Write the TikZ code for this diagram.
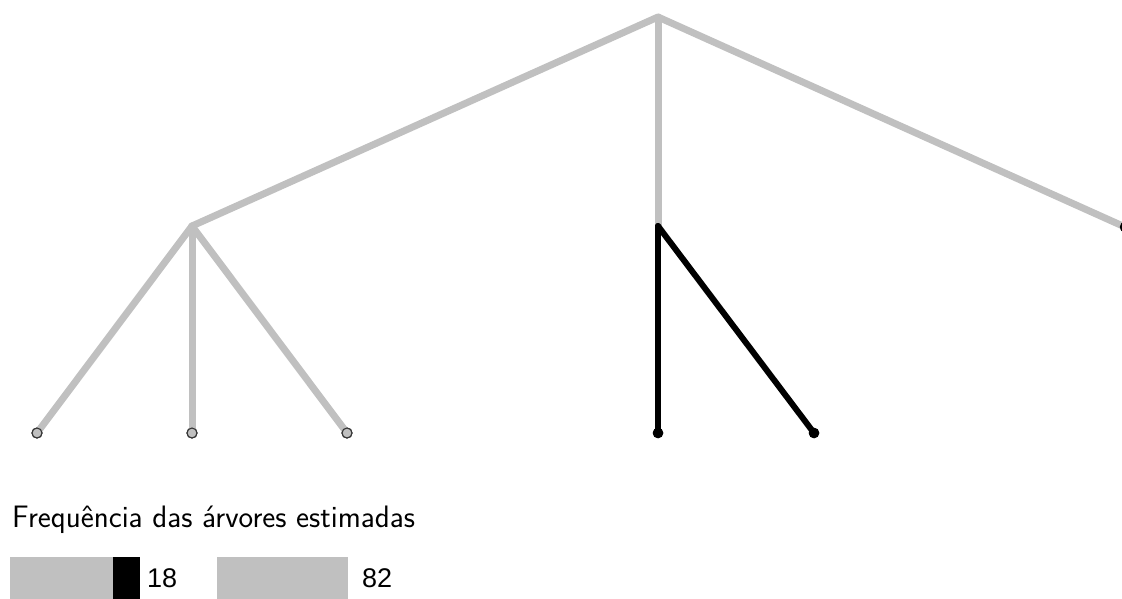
\documentclass[tikz,border=0pt]{standalone}
\usepackage{fontspec}
\newfontfamily\numfont{Liberation Sans}
\definecolor{lgrey}{HTML}{C0C0C0}
\definecolor{ringgrey}{HTML}{333333}
\begin{document}
\begin{tikzpicture}[x=1pt,y=-1pt,
  greyedge/.style={draw=lgrey,line width=7pt,line cap=round,line join=round},
  blackedge/.style={draw=black,line width=6pt,line cap=round},
  greyleaf/.style={circle,fill=lgrey,draw=ringgrey,line width=1.1pt,inner sep=0pt,minimum size=10pt},
  blackleaf/.style={circle,fill=black,inner sep=0pt,minimum size=10.5pt},
  title/.style={anchor=base west,inner sep=0pt,font=\sffamily\fontsize{31}{33}\selectfont},
  num/.style={anchor=base west,inner sep=0pt,font=\numfont\fontsize{27}{29}\selectfont},
  bargrey/.style={fill=lgrey,draw=none},
  barblack/.style={fill=black,draw=none}]
\useasboundingbox (0,0) rectangle (1122,599);
% tree points
\coordinate (root) at (658,17);
\coordinate (left) at (192,226);
\coordinate (mid) at (658,226);
\coordinate (right) at (1125,227);
\node[greyleaf] (l1) at (37,433) {};
\node[greyleaf] (l2) at (192,433) {};
\node[greyleaf] (l3) at (347,433) {};
\node[blackleaf] (b1) at (658,433) {};
\node[blackleaf] (b2) at (814,433) {};
\node[blackleaf] (r1) at (right) {};
% grey edges
\draw[greyedge] (left) -- (root) -- (right);
\draw[greyedge] (root) -- (mid);
\draw[greyedge] (left) -- (l1.center);
\draw[greyedge] (left) -- (l2.center);
\draw[greyedge] (left) -- (l3.center);
% black edges
\draw[blackedge] (mid) -- (b1.center);
\draw[blackedge] (mid) -- (b2.center);
% redraw leaves on top
\node[greyleaf] at (l1) {};
\node[greyleaf] at (l2) {};
\node[greyleaf] at (l3) {};
\node[blackleaf] at (b1) {};
\node[blackleaf] at (b2) {};
\node[blackleaf] at (r1) {};
% legend
\node[title] (ttl) at (12,527) {Frequência das árvores estimadas};
\fill[bargrey] (10,557) rectangle (113,600);
\fill[barblack] (113,557) rectangle (140,600);
\node[num] (n18) at (147,587) {18};
\fill[bargrey] (217,557) rectangle (348,600);
\node[num] (n82) at (362,587) {82};
\end{tikzpicture}
\end{document}
